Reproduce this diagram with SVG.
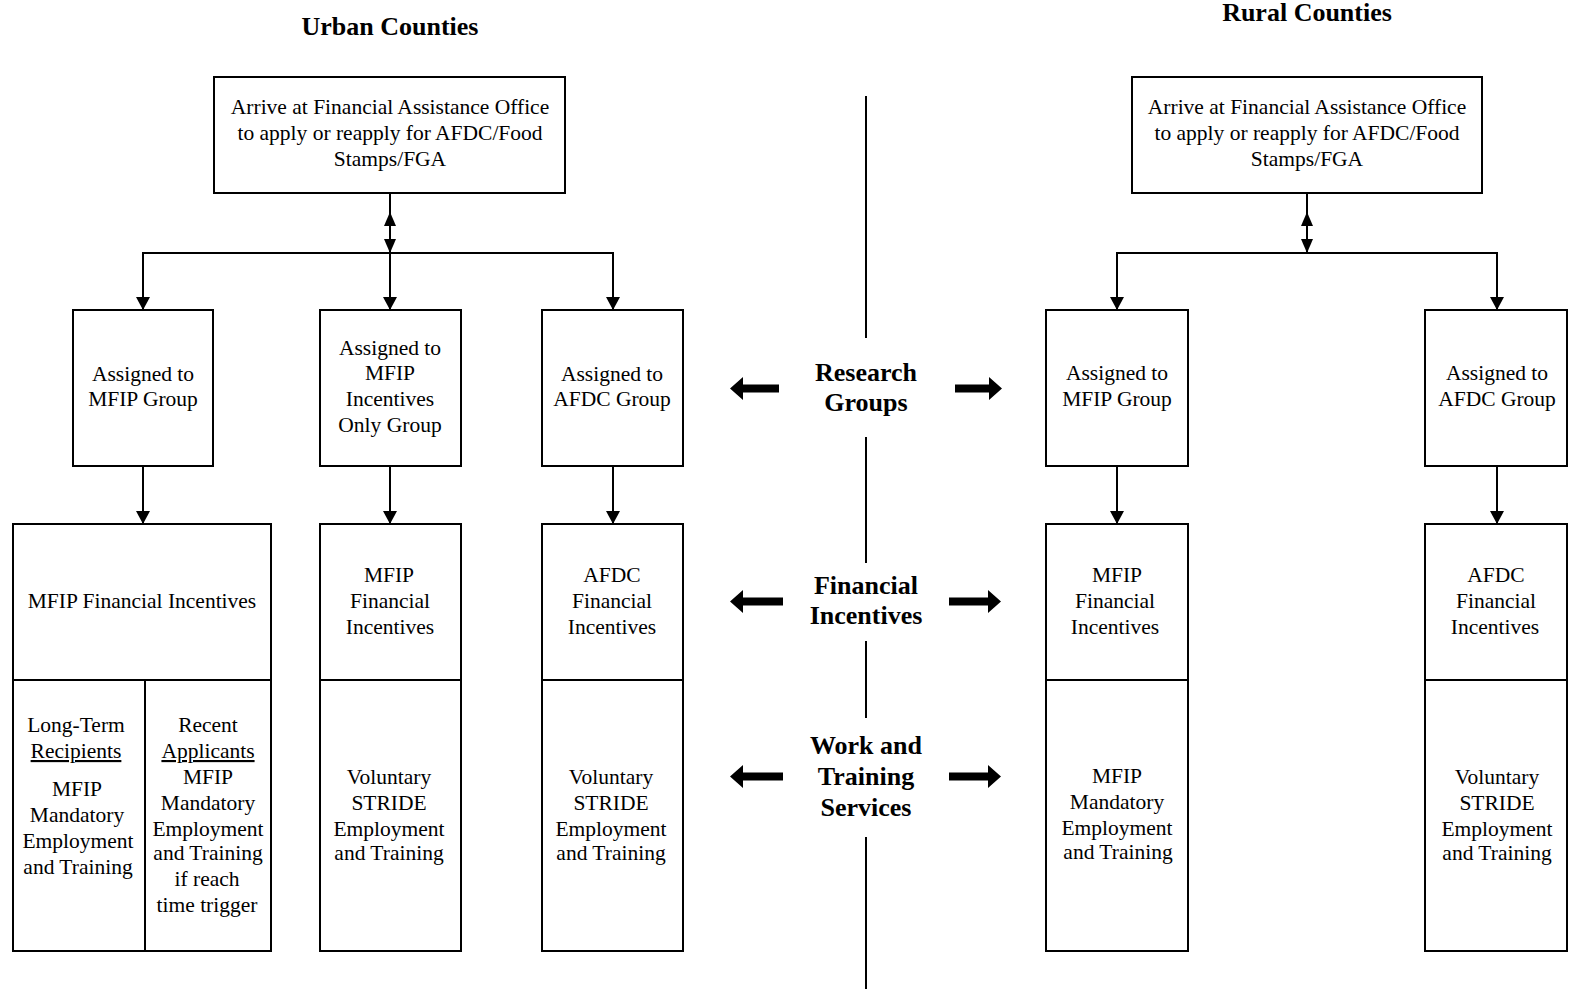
<svg xmlns="http://www.w3.org/2000/svg" width="1569" height="989" viewBox="0 0 1569 989">
<style>
.box{fill:#fff;stroke:#000;stroke-width:2}
.ln{fill:none;stroke:#000;stroke-width:2}
.t{font-family:"Liberation Serif","Times New Roman",serif;font-size:21.5px;text-anchor:middle;fill:#000}
.h{font-family:"Liberation Serif","Times New Roman",serif;font-size:26px;font-weight:bold;text-anchor:middle;fill:#000}
.c{font-family:"Liberation Serif","Times New Roman",serif;font-size:26px;font-weight:bold;text-anchor:middle;fill:#000}
.ar{fill:#000}
</style>
<rect width="1569" height="989" fill="#fff"/>
<text class="h" x="390" y="35">Urban Counties</text>
<text class="h" x="1307" y="21">Rural Counties</text>

<g id="connectors">
<line class="ln" x1="866" y1="96" x2="866" y2="338"/>
<line class="ln" x1="866" y1="437" x2="866" y2="563"/>
<line class="ln" x1="866" y1="641" x2="866" y2="718"/>
<line class="ln" x1="866" y1="837" x2="866" y2="989"/>
<!-- urban -->
<line class="ln" x1="390" y1="193" x2="390" y2="253"/>
<path class="ar" d="M384,226 L390,212 L396,226 z"/>
<path class="ar" d="M384,239 L390,253 L396,239 z"/>
<polyline class="ln" points="143,310 143,253 613,253 613,310"/>
<path class="ar" d="M136,297 L143,310 L150,297 z"/>
<line class="ln" x1="390" y1="253" x2="390" y2="310"/>
<path class="ar" d="M383,297 L390,310 L397,297 z"/>
<path class="ar" d="M606,297 L613,310 L620,297 z"/>
<line class="ln" x1="143" y1="466" x2="143" y2="524"/>
<path class="ar" d="M136,511 L143,524 L150,511 z"/>
<line class="ln" x1="390" y1="466" x2="390" y2="524"/>
<path class="ar" d="M383,511 L390,524 L397,511 z"/>
<line class="ln" x1="613" y1="466" x2="613" y2="524"/>
<path class="ar" d="M606,511 L613,524 L620,511 z"/>
<!-- rural -->
<line class="ln" x1="1307" y1="193" x2="1307" y2="253"/>
<path class="ar" d="M1301,226 L1307,212 L1313,226 z"/>
<path class="ar" d="M1301,239 L1307,253 L1313,239 z"/>
<polyline class="ln" points="1117,310 1117,253 1497,253 1497,310"/>
<path class="ar" d="M1110,297 L1117,310 L1124,297 z"/>
<path class="ar" d="M1490,297 L1497,310 L1504,297 z"/>
<line class="ln" x1="1117" y1="466" x2="1117" y2="524"/>
<path class="ar" d="M1110,511 L1117,524 L1124,511 z"/>
<line class="ln" x1="1497" y1="466" x2="1497" y2="524"/>
<path class="ar" d="M1490,511 L1497,524 L1504,511 z"/>
<!-- thick arrows -->
<path class="ar" d="M730,388.5 L743,377 L743,384.5 L779,384.5 L779,392.5 L743,392.5 L743,400 z"/>
<path class="ar" d="M1002,388.5 L989,377 L989,384.5 L955,384.5 L955,392.5 L989,392.5 L989,400 z"/>
<path class="ar" d="M730,601.5 L743,590 L743,597.5 L783,597.5 L783,605.5 L743,605.5 L743,613 z"/>
<path class="ar" d="M1001,601.5 L988,590 L988,597.5 L949,597.5 L949,605.5 L988,605.5 L988,613 z"/>
<path class="ar" d="M730,776.5 L743,765 L743,772.5 L783,772.5 L783,780.5 L743,780.5 L743,788 z"/>
<path class="ar" d="M1001,776.5 L988,765 L988,772.5 L949,772.5 L949,780.5 L988,780.5 L988,788 z"/>
</g>

<g id="label-research">
<text class="c" x="866" y="381">Research</text>
<text class="c" x="866" y="411">Groups</text>
</g>
<g id="label-financial">
<text class="c" x="866" y="594">Financial</text>
<text class="c" x="866" y="624">Incentives</text>
</g>
<g id="label-work">
<text class="c" x="866" y="754">Work and</text>
<text class="c" x="866" y="785">Training</text>
<text class="c" x="866" y="816">Services</text>
</g>

<g id="urban-arrive">
<rect class="box" x="214" y="77" width="351" height="116"/>
<text class="t" x="390" y="114">Arrive at Financial Assistance Office</text>
<text class="t" x="390" y="140">to apply or reapply for AFDC/Food</text>
<text class="t" x="390" y="166">Stamps/FGA</text>
</g>
<g id="rural-arrive">
<rect class="box" x="1132" y="77" width="350" height="116"/>
<text class="t" x="1307" y="114">Arrive at Financial Assistance Office</text>
<text class="t" x="1307" y="140">to apply or reapply for AFDC/Food</text>
<text class="t" x="1307" y="166">Stamps/FGA</text>
</g>

<g id="urban-mfip">
<rect class="box" x="73" y="310" width="140" height="156"/>
<text class="t" x="143" y="381">Assigned to</text>
<text class="t" x="143" y="406">MFIP Group</text>
</g>
<g id="urban-incentives-only">
<rect class="box" x="320" y="310" width="141" height="156"/>
<text class="t" x="390" y="355">Assigned to</text>
<text class="t" x="390" y="380">MFIP</text>
<text class="t" x="390" y="406">Incentives</text>
<text class="t" x="390" y="432">Only Group</text>
</g>
<g id="urban-afdc">
<rect class="box" x="542" y="310" width="141" height="156"/>
<text class="t" x="612" y="381">Assigned to</text>
<text class="t" x="612" y="406">AFDC Group</text>
</g>
<g id="rural-mfip">
<rect class="box" x="1046" y="310" width="142" height="156"/>
<text class="t" x="1117" y="380">Assigned to</text>
<text class="t" x="1117" y="406">MFIP Group</text>
</g>
<g id="rural-afdc">
<rect class="box" x="1425" y="310" width="142" height="156"/>
<text class="t" x="1497" y="380">Assigned to</text>
<text class="t" x="1497" y="406">AFDC Group</text>
</g>

<g id="urban-mfip-services">
<rect class="box" x="13" y="524" width="258" height="427"/>
<line class="ln" x1="13" y1="680" x2="271" y2="680"/>
<line class="ln" x1="145" y1="680" x2="145" y2="951"/>
<text class="t" x="142" y="608">MFIP Financial Incentives</text>
<text class="t" x="76" y="732">Long-Term</text>
<text class="t" x="76" y="758" text-decoration="underline">Recipients</text>
<text class="t" x="77" y="796">MFIP</text>
<text class="t" x="77" y="822">Mandatory</text>
<text class="t" x="78" y="848">Employment</text>
<text class="t" x="78" y="874">and Training</text>
<text class="t" x="208" y="732">Recent</text>
<text class="t" x="208" y="758" text-decoration="underline">Applicants</text>
<text class="t" x="208" y="784">MFIP</text>
<text class="t" x="208" y="810">Mandatory</text>
<text class="t" x="208" y="836">Employment</text>
<text class="t" x="208" y="860">and Training</text>
<text class="t" x="207" y="886">if reach</text>
<text class="t" x="207" y="912">time trigger</text>
</g>
<g id="urban-incentives-services">
<rect class="box" x="320" y="524" width="141" height="427"/>
<line class="ln" x1="320" y1="680" x2="461" y2="680"/>
<text class="t" x="389" y="582">MFIP</text>
<text class="t" x="390" y="608">Financial</text>
<text class="t" x="390" y="634">Incentives</text>
<text class="t" x="389" y="784">Voluntary</text>
<text class="t" x="389" y="810">STRIDE</text>
<text class="t" x="389" y="836">Employment</text>
<text class="t" x="389" y="860">and Training</text>
</g>
<g id="urban-afdc-services">
<rect class="box" x="542" y="524" width="141" height="427"/>
<line class="ln" x1="542" y1="680" x2="683" y2="680"/>
<text class="t" x="612" y="582">AFDC</text>
<text class="t" x="612" y="608">Financial</text>
<text class="t" x="612" y="634">Incentives</text>
<text class="t" x="611" y="784">Voluntary</text>
<text class="t" x="611" y="810">STRIDE</text>
<text class="t" x="611" y="836">Employment</text>
<text class="t" x="611" y="860">and Training</text>
</g>
<g id="rural-mfip-services">
<rect class="box" x="1046" y="524" width="142" height="427"/>
<line class="ln" x1="1046" y1="680" x2="1188" y2="680"/>
<text class="t" x="1117" y="582">MFIP</text>
<text class="t" x="1115" y="608">Financial</text>
<text class="t" x="1115" y="634">Incentives</text>
<text class="t" x="1117" y="783">MFIP</text>
<text class="t" x="1117" y="809">Mandatory</text>
<text class="t" x="1117" y="835">Employment</text>
<text class="t" x="1118" y="859">and Training</text>
</g>
<g id="rural-afdc-services">
<rect class="box" x="1425" y="524" width="142" height="427"/>
<line class="ln" x1="1425" y1="680" x2="1567" y2="680"/>
<text class="t" x="1496" y="582">AFDC</text>
<text class="t" x="1496" y="608">Financial</text>
<text class="t" x="1495" y="634">Incentives</text>
<text class="t" x="1497" y="784">Voluntary</text>
<text class="t" x="1497" y="810">STRIDE</text>
<text class="t" x="1497" y="836">Employment</text>
<text class="t" x="1497" y="860">and Training</text>
</g>
</svg>
